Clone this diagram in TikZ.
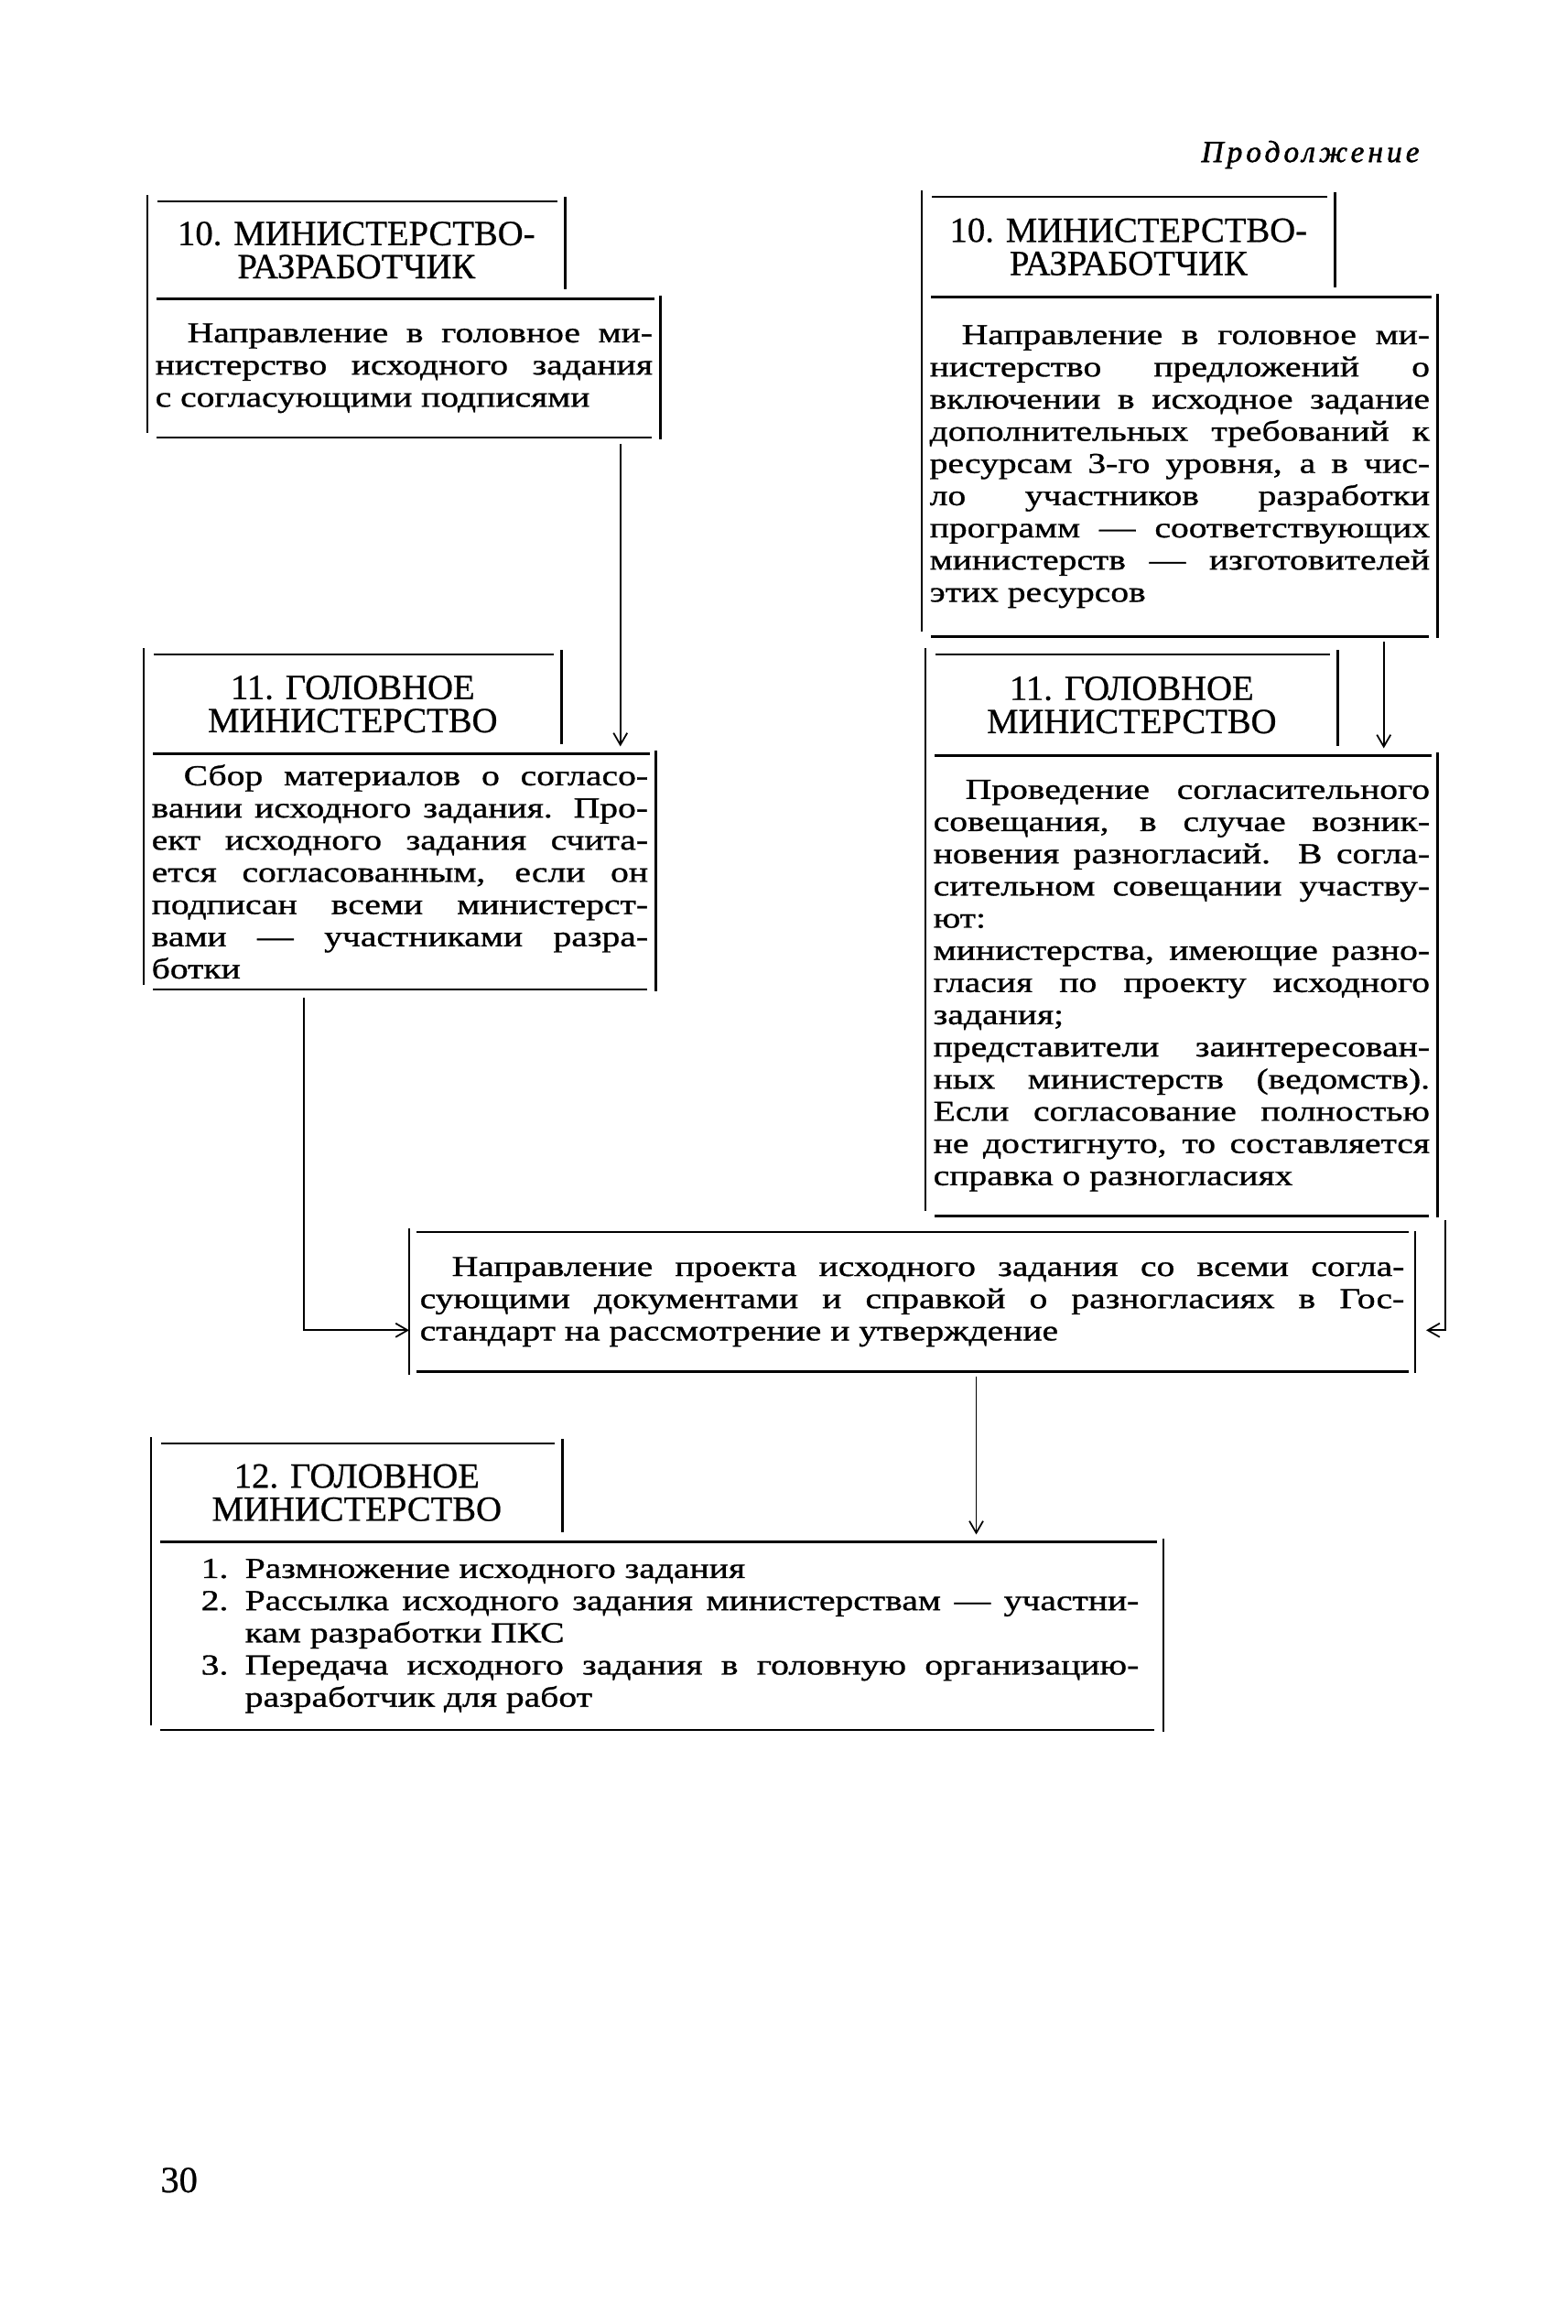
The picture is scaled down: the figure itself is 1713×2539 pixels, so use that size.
\documentclass[tikz,border=0pt]{standalone}
\usepackage{fontspec}
\setmainfont{Liberation Serif}
\newfontfamily\bodyfam{Liberation Serif}[FakeStretch=1.25, FakeBold=1]
\newfontfamily\headfam{Liberation Serif}[FakeBold=0.6]
\newfontfamily\contfam{Liberation Serif}[LetterSpace=12, FakeBold=1.5]
\usetikzlibrary{positioning, arrows.meta}
\tolerance=10000
\hbadness=10000
\newlength\Indent
\setlength\Indent{0.35cm}
\newcommand\bodyfont{\bodyfam\fontsize{9}{10}\selectfont}
\newcommand\headfont{\headfam\fontsize{11}{10.3}\selectfont}
% open frame of a header and its body
\newcommand\blockframe[2]{%
  \draw [frame] ([shift={(0,7)}]#1.north west) -- ([shift={(0,5)}]#2.south west);
  \draw [frame] ([shift={(11,0)}]#1.north west) -- ([shift={(-9,0)}]#1.north east);
  \draw [frame] ([shift={(0,5)}]#1.north east) -- ([shift={(0,10)}]#1.south east);
  \draw [frame] ([shift={(10,0)}]#2.north west) -- ([shift={(-7,0)}]#2.north east);
  \draw [frame] ([shift={(0,3)}]#2.north east) -- ([shift={(0,-2)}]#2.south east);
  \draw [frame] ([shift={(10,0)}]#2.south west) -- ([shift={(-10,0)}]#2.south east);
}
\newcommand\plainframe[1]{%
  \draw [frame] ([shift={(0,4)}]#1.north west) -- ([shift={(0,-3)}]#1.south west);
  \draw [frame] ([shift={(8,0)}]#1.north west) -- ([shift={(-7,0)}]#1.north east);
  \draw [frame] ([shift={(0,1)}]#1.north east) -- ([shift={(0,-1)}]#1.south east);
  \draw [frame] ([shift={(8,0)}]#1.south west) -- ([shift={(-7,0)}]#1.south east);
}

\begin{document}
\begin{tikzpicture}
    [x=0.01cm, y=0.01cm,
    head/.style={anchor=north west, inner sep=0pt, align=center, font=\headfont},
    body/.style={inner xsep=0.08cm, inner ysep=0pt, align=justify, font=\bodyfont},
    frame/.style={line width=0.8pt},
    arrow/.style={->, >={Straight Barb[length=1.3mm, width=1.5mm]}, line width=0.5pt,
    shorten >=0.08cm}]
    \useasboundingbox (0,0) rectangle (1713,-2539);

    \node [font=\contfam\itshape\fontsize{9.5}{10}\selectfont, anchor=base east] (cont) at (1563,-177)
    {Продолжение};

    % left column
    \node [head, minimum width=4.55cm, minimum height=1.05cm] (h10l) at (161,-220)
    {10. МИНИСТЕРСТВО-\\РАЗРАБОТЧИК};
    \node [body, below right=0pt of h10l.south west, text width=5.43cm, minimum height=1.5cm] (b10l)
    {\hspace*{\Indent}Направление в головное ми-\linebreak нистерство исходного задания\linebreak
    с согласующими подписями};
    \node [head, minimum width=4.55cm, minimum height=1.07cm] (h11l) at (157,-715)
    {11. ГОЛОВНОЕ\\МИНИСТЕРСТВО};
    \node [body, below right=0pt of h11l.south west, text width=5.42cm, minimum height=2.56cm] (b11l)
    {\hspace*{\Indent}Сбор материалов о согласо-\linebreak вании исходного задания. Про-\linebreak
    ект исходного задания счита-\linebreak ется согласованным, если он\linebreak подписан всеми
    министерст-\linebreak вами — участниками разра-\linebreak ботки};

    % right column
    \node [head, minimum width=4.50cm, minimum height=1.08cm] (h10r) at (1007,-215)
    {10. МИНИСТЕРСТВО-\\РАЗРАБОТЧИК};
    \node [body, below right=0pt of h10r.south west, text width=5.46cm, minimum height=3.69cm] (b10r)
    {\hspace*{\Indent}Направление в головное ми-\linebreak нистерство предложений о\linebreak
    включении в исходное задание\linebreak дополнительных требований к\linebreak ресурсам 3-го
    уровня, а в чис-\linebreak ло участников разработки\linebreak программ — соответствующих\linebreak
    министерств — изготовителей\linebreak этих ресурсов};
    \node [head, minimum width=4.49cm, minimum height=1.09cm] (h11r) at (1011,-715)
    {11. ГОЛОВНОЕ\\МИНИСТЕРСТВО};
    \node [body, below right=0pt of h11r.south west, text width=5.42cm, minimum height=5.01cm] (b11r)
    {\hspace*{\Indent}Проведение согласительного\linebreak совещания, в случае возник-\linebreak
    новения разногласий. В согла-\linebreak сительном совещании участву-\linebreak ют:\\
    министерства, имеющие разно-\linebreak гласия по проекту исходного\linebreak задания;\\
    представители заинтересован-\linebreak ных министерств (ведомств).\linebreak Если согласование
    полностью\linebreak не достигнуто, то составляется\linebreak справка о разногласиях};

    % common box and last step
    \node [body, anchor=north west, inner xsep=0.11cm, text width=10.75cm, minimum height=1.51cm]
    (b13) at (447,-1346) {\hspace*{\Indent}Направление проекта исходного задания со всеми
    согла-\linebreak сующими документами и справкой о разногласиях в Гос-\linebreak стандарт на
    рассмотрение и утверждение};
    \node [head, minimum width=4.48cm, minimum height=1.06cm] (h12) at (165,-1577)
    {12. ГОЛОВНОЕ\\МИНИСТЕРСТВО};
    \node [body, below right=0pt of h12.south west, text width=10.88cm, minimum height=2.04cm] (b12)
    {\hspace*{0.46cm}\begin{tabular}{@{}p{0.3cm}@{\hspace{0.18cm}}p{9.76cm}@{}}
    1. & Размножение исходного задания\\
    2. & Рассылка исходного задания министерствам — участни-\linebreak кам разработки ПКС\\
    3. & Передача исходного задания в головную организацию-\linebreak разработчик для работ
    \end{tabular}};

    \node [font=\headfam\fontsize{11.5}{12}\selectfont, anchor=base west] (pagenum) at (163,-2395) {30};

    \blockframe{h10l}{b10l}
    \blockframe{h11l}{b11l}
    \blockframe{h10r}{b10r}
    \blockframe{h11r}{b11r}
    \blockframe{h12}{b12}
    \plainframe{b13}

    \draw [arrow] ([shift={(-44,-7)}]b10l.south east) coordinate (a1) -- (a1 |- b11l.north);
    \draw [arrow] ([shift={(-59,-6)}]b10r.south east) coordinate (a2) -- (a2 |- b11r.north);
    \draw [arrow, shorten >=0pt] ([shift={(175,-9)}]b11l.south west) |- ([yshift=-0.31cm]b13.west);
    \draw [arrow, shorten >=0.12cm] ([shift={(8,-5)}]b11r.south east) |- ([yshift=-0.31cm]b13.east);
    \draw [arrow] ([shift={(70,-5)}]b13.south) coordinate (a5) -- (a5 |- b12.north);
  \end{tikzpicture}
\end{document}
